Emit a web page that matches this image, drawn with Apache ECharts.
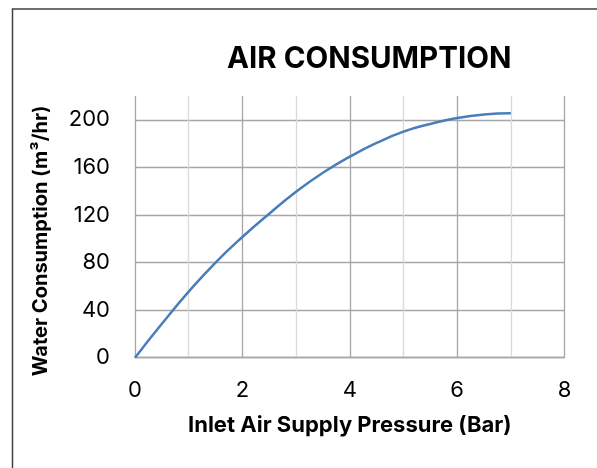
<!DOCTYPE html>
<html>
<head>
<meta charset="utf-8">
<script src="https://cdn.jsdelivr.net/npm/echarts@6/dist/echarts.min.js"></script>
<style>
  html, body { margin: 0; padding: 0; background: #fff; }
  #chart { width: 597px; height: 468px; }
</style>
</head>
<body>
<div id="chart"></div>
<script>
  // Curve: pressure (Bar) vs consumption
  var pressure = [0, 0.5, 1, 1.5, 2, 2.5, 3, 3.5, 4, 4.5, 5, 5.5, 6, 6.5, 7];
  var consumption = [0, 28.5, 55.5, 80, 101.5, 121, 139.5, 155.5, 169, 180.5, 190, 196.5, 201.5, 204.5, 205.5];
  var yTicks = [0, 40, 80, 120, 160, 200];

  var font = 'Inter, "Liberation Sans", sans-serif';
  var majorGrid = '#a6a6a6';
  var minorGrid = '#d9d9d9';

  var points = pressure.map(function (p, i) { return [p, consumption[i]]; });

  // one colour per horizontal split line; the top edge (220) stays hidden
  var hLineColors = yTicks.map(function () { return majorGrid; });
  hLineColors.push('rgba(0,0,0,0)');

  var chart = echarts.init(document.getElementById('chart'));
  chart.setOption({
    backgroundColor: '#fff',
    animation: false,
    title: {
      text: 'AIR CONSUMPTION',
      left: 222,
      top: 39,
      textStyle: { fontFamily: font, fontWeight: 'bold', fontSize: 29.5, color: '#000' }
    },
    graphic: [{
      type: 'rect',
      shape: { x: 12.5, y: 9, width: 700, height: 600 },
      style: { fill: 'none', stroke: '#404040', lineWidth: 1.5 },
      silent: true
    }],
    grid: { left: 135, right: 32.5, top: 96, bottom: 110.3 },
    xAxis: {
      type: 'value',
      min: 0,
      max: 8,
      interval: 2,
      name: 'Inlet Air Supply Pressure (Bar)',
      nameLocation: 'middle',
      nameGap: 57,
      nameTextStyle: { fontFamily: font, fontWeight: 'bold', fontSize: 22, color: '#000' },
      axisLine: { show: true, lineStyle: { color: majorGrid, width: 1.3 } },
      axisTick: { show: false },
      axisLabel: { margin: 22, fontFamily: font, fontSize: 22, color: '#000' },
      splitLine: { show: true, lineStyle: { color: majorGrid, width: 1.3 } },
      minorTick: { show: false, splitNumber: 2 },
      minorSplitLine: { show: true, lineStyle: { color: minorGrid, width: 1.3 } }
    },
    yAxis: {
      type: 'value',
      min: 0,
      max: 220,
      interval: 40,
      name: 'Water Consumption (m³/hr)',
      nameLocation: 'middle',
      nameGap: 84,
      nameTextStyle: { fontFamily: font, fontWeight: 'bold', fontSize: 20, color: '#000', padding: [0, 28, 0, 0] },
      axisLine: { show: false },
      axisTick: { show: false },
      axisLabel: {
        margin: 25,
        fontFamily: font,
        fontSize: 22,
        color: '#000',
        formatter: function (v) { return v > 200 ? '' : String(v); }
      },
      splitLine: { show: true, lineStyle: { color: hLineColors, width: 1.3 } }
    },
    series: [{
      type: 'line',
      data: points,
      smooth: true,
      showSymbol: false,
      lineStyle: { color: '#4a7ebb', width: 2.5 }
    }]
  });
</script>
</body>
</html>
